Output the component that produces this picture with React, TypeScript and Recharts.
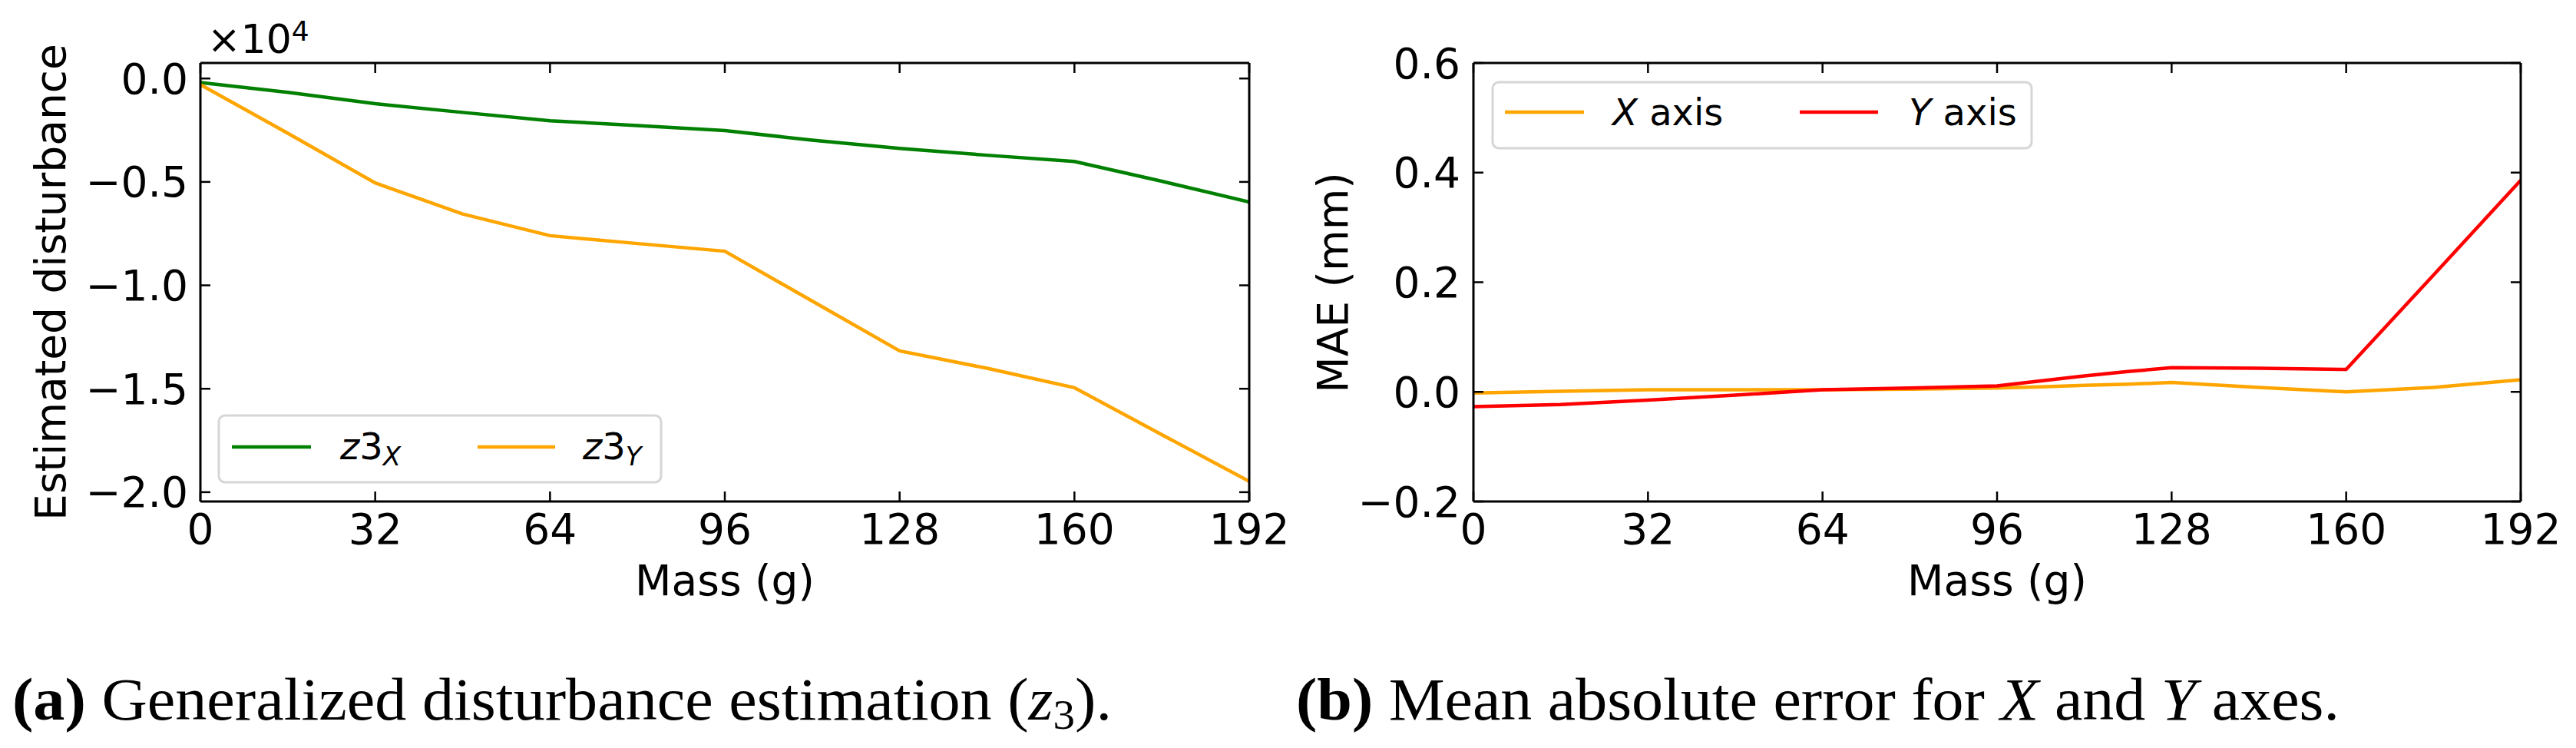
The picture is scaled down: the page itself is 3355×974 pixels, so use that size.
import React from 'react';
import { LineChart, Line, XAxis, YAxis } from 'recharts';

// ---- data ----
const massA = [0, 16, 32, 48, 64, 80, 96, 112, 128, 144, 160, 176, 192];
const z3X = [-0.02, -0.067, -0.122, -0.164, -0.204, -0.228, -0.252, -0.298, -0.338, -0.371, -0.401, -0.497, -0.597];
const z3Y = [-0.03, -0.265, -0.505, -0.655, -0.76, -0.798, -0.835, -1.076, -1.317, -1.401, -1.495, -1.722, -1.948];

const massB = [0, 16, 32, 48, 64, 80, 96, 104, 112, 120, 128, 144, 160, 176, 192];
const maeX = [-0.002, 0.001, 0.004, 0.004, 0.004, 0.005, 0.007, 0.009, 0.012, 0.014, 0.017, 0.008, 0.0, 0.008, 0.022];
const maeY = [-0.027, -0.023, -0.015, -0.006, 0.004, 0.007, 0.011, 0.02, 0.029, 0.037, 0.044, 0.043, 0.041, 0.213, 0.386];

const massTicks = [0, 32, 64, 96, 128, 160, 192];
const yTicksA = [0, -0.5, -1, -1.5, -2];
const yTicksB = [-0.2, 0, 0.2, 0.4, 0.6];

const dataA = massA.map((m, i) => ({ mass: m, z3X: z3X[i], z3Y: z3Y[i] }));
const dataB = massB.map((m, i) => ({ mass: m, maeX: maeX[i], maeY: maeY[i] }));

const FONT = 'DejaVu Sans';
const fmt = (v: number) => {
  const s = Math.abs(v).toFixed(1);
  return v < -1e-9 ? '\u2212' + s : s;
};

const tickStyle = { fill: '#000', fontSize: 55, fontFamily: FONT };
const axisLineStyle = { stroke: '#000', strokeWidth: 3 };
const tickLineStyle = { stroke: '#000', strokeWidth: 2.5 };
const noLabel = () => <g />;

function Frame(props: { yDomain: [number, number]; yTicks: number[]; yMargin: number }) {
  return null;
}

export default function App() {
  return (
    <div style={{ position: 'absolute', left: 0, top: 0, width: 3355, height: 974, background: '#fff', overflow: 'hidden' }}>
      {/* Chart (a) */}
      <div style={{ position: 'absolute', left: 0, top: 0 }}>
        <LineChart width={1700} height={780} data={dataA} margin={{ top: 62, right: 53, bottom: 27, left: 161 }}>
          <XAxis xAxisId="b" dataKey="mass" type="number" domain={[0, 192]} allowDataOverflow ticks={massTicks} interval={0}
            orientation="bottom" height={100} tick={tickStyle} tickSize={-13} tickMargin={29}
            axisLine={axisLineStyle} tickLine={tickLineStyle} />
          <XAxis xAxisId="t" dataKey="mass" type="number" domain={[0, 192]} allowDataOverflow ticks={massTicks} interval={0}
            orientation="top" height={20} tick={noLabel} tickSize={-13}
            axisLine={axisLineStyle} tickLine={tickLineStyle} />
          <YAxis yAxisId="l" type="number" domain={[-2.045, 0.075]} allowDataOverflow ticks={yTicksA} interval={0}
            orientation="left" width={100} tick={tickStyle} tickFormatter={fmt} tickSize={-13} tickMargin={29}
            axisLine={axisLineStyle} tickLine={tickLineStyle} />
          <YAxis yAxisId="r" type="number" domain={[-2.045, 0.075]} allowDataOverflow ticks={yTicksA} interval={0}
            orientation="right" width={20} tick={noLabel} tickSize={-13}
            axisLine={axisLineStyle} tickLine={tickLineStyle} />
          <Line xAxisId="b" yAxisId="l" type="linear" dataKey="z3X" stroke="#008000" strokeWidth={4.5} dot={false} isAnimationActive={false} />
          <Line xAxisId="b" yAxisId="l" type="linear" dataKey="z3Y" stroke="#FFA500" strokeWidth={4.5} dot={false} isAnimationActive={false} />
        </LineChart>
      </div>

      {/* Chart (b) */}
      <div style={{ position: 'absolute', left: 1700, top: 0 }}>
        <LineChart width={1655} height={780} data={dataB} margin={{ top: 62, right: 52, bottom: 27, left: 119 }}>
          <XAxis xAxisId="b" dataKey="mass" type="number" domain={[0, 192]} allowDataOverflow ticks={massTicks} interval={0}
            orientation="bottom" height={100} tick={tickStyle} tickSize={-13} tickMargin={29}
            axisLine={axisLineStyle} tickLine={tickLineStyle} />
          <XAxis xAxisId="t" dataKey="mass" type="number" domain={[0, 192]} allowDataOverflow ticks={massTicks} interval={0}
            orientation="top" height={20} tick={noLabel} tickSize={-13}
            axisLine={axisLineStyle} tickLine={tickLineStyle} />
          <YAxis yAxisId="l" type="number" domain={[-0.2, 0.6]} allowDataOverflow ticks={yTicksB} interval={0}
            orientation="left" width={100} tick={tickStyle} tickFormatter={fmt} tickSize={-13} tickMargin={30}
            axisLine={axisLineStyle} tickLine={tickLineStyle} />
          <YAxis yAxisId="r" type="number" domain={[-0.2, 0.6]} allowDataOverflow ticks={yTicksB} interval={0}
            orientation="right" width={20} tick={noLabel} tickSize={-13}
            axisLine={axisLineStyle} tickLine={tickLineStyle} />
          <Line xAxisId="b" yAxisId="l" type="linear" dataKey="maeX" stroke="#FFA500" strokeWidth={4.5} dot={false} isAnimationActive={false} />
          <Line xAxisId="b" yAxisId="l" type="linear" dataKey="maeY" stroke="#FF0000" strokeWidth={4.5} dot={false} isAnimationActive={false} />
        </LineChart>
      </div>

      {/* Text overlay: axis labels, offset text, legends, captions */}
      <svg width={3355} height={974} style={{ position: 'absolute', left: 0, top: 0, pointerEvents: 'none' }}>
        <g fontFamily={FONT} fill="#000">
          {/* axis labels (a) */}
          <text x={85} y={367.5} fontSize={55} textAnchor="middle" transform="rotate(-90 85 367.5)">Estimated disturbance</text>
          <text x={944} y={775} fontSize={55} textAnchor="middle">Mass (g)</text>
          {/* offset text */}
          <text x={270} y={69} fontSize={52}>{'\u00d710'}<tspan fontSize={36} dy={-16}>4</tspan></text>
          {/* axis labels (b) */}
          <text x={1755} y={368} fontSize={55} textAnchor="middle" transform="rotate(-90 1755 368)">MAE (mm)</text>
          <text x={2601} y={775} fontSize={55} textAnchor="middle">Mass (g)</text>
        </g>

        {/* legend (a) */}
        <rect x={285} y={541} width={576} height={87} rx={8} fill="#fff" fillOpacity={0.8} stroke="#d6d6d6" strokeWidth={3} />
        <line x1={302} x2={405} y1={582} y2={582} stroke="#008000" strokeWidth={4.5} />
        <text x={443} y={598} fontSize={48} fontFamily={FONT} fill="#000">
          <tspan fontStyle="italic">z</tspan>3<tspan fontStyle="italic" fontSize={34} dy={8}>X</tspan>
        </text>
        <line x1={622} x2={723} y1={582} y2={582} stroke="#FFA500" strokeWidth={4.5} />
        <text x={759} y={598} fontSize={48} fontFamily={FONT} fill="#000">
          <tspan fontStyle="italic">z</tspan>3<tspan fontStyle="italic" fontSize={34} dy={8}>Y</tspan>
        </text>

        {/* legend (b) */}
        <rect x={1944} y={107} width={702} height={86} rx={8} fill="#fff" fillOpacity={0.8} stroke="#d6d6d6" strokeWidth={3} />
        <line x1={1960} x2={2063} y1={146} y2={146} stroke="#FFA500" strokeWidth={4.5} />
        <text x={2100} y={163} fontSize={48} fontFamily={FONT} fill="#000">
          <tspan fontStyle="italic">X</tspan> axis
        </text>
        <line x1={2344} x2={2446} y1={146} y2={146} stroke="#FF0000" strokeWidth={4.5} />
        <text x={2486} y={163} fontSize={48} fontFamily={FONT} fill="#000">
          <tspan fontStyle="italic">Y</tspan> axis
        </text>

        {/* captions */}
        <text x={16} y={937} fontSize={78} fontFamily="Liberation Serif" fill="#000" textLength={1432} lengthAdjust="spacingAndGlyphs">
          <tspan fontWeight="bold">(a)</tspan> Generalized disturbance estimation (<tspan fontStyle="italic">z</tspan><tspan fontSize={54} dy={12}>3</tspan><tspan dy={-12}>).</tspan>
        </text>
        <text x={1688} y={937} fontSize={78} fontFamily="Liberation Serif" fill="#000" textLength={1359} lengthAdjust="spacingAndGlyphs">
          <tspan fontWeight="bold">(b)</tspan> Mean absolute error for <tspan fontStyle="italic">X</tspan> and <tspan fontStyle="italic">Y</tspan> axes.
        </text>
      </svg>
    </div>
  );
}
